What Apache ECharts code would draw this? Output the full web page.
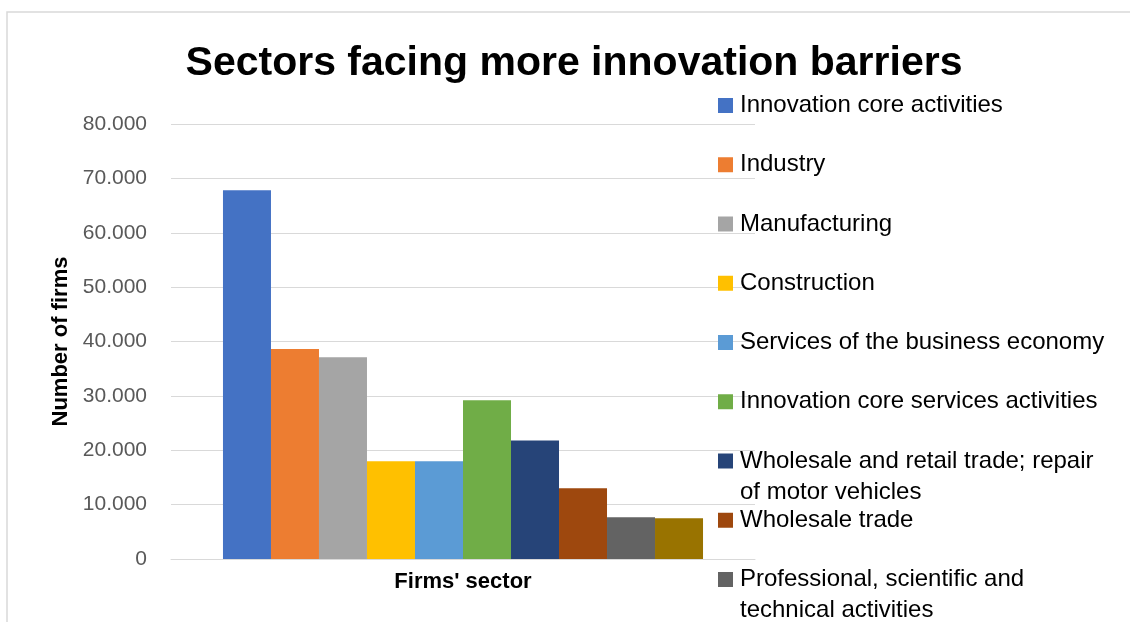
<!DOCTYPE html>
<html>
<head>
<meta charset="utf-8">
<title>Sectors facing more innovation barriers</title>
<script src="https://cdn.jsdelivr.net/npm/echarts@6/dist/echarts.min.js"></script>
<style>
  html, body { margin: 0; padding: 0; background: #ffffff; }
  #chart { width: 1130px; height: 622px; }
</style>
</head>
<body>
<div id="chart"></div>
<script>
// Number of firms facing innovation barriers, by sector
const sectors = [
  'Innovation core activities',
  'Industry',
  'Manufacturing',
  'Construction',
  'Services of the business economy',
  'Innovation core services activities',
  'Wholesale and retail trade; repair of motor vehicles',
  'Wholesale trade',
  'Professional, scientific and technical activities',
  'Information and communication'
];
const firmCounts = [67800, 38600, 37100, 18000, 18000, 29200, 21800, 13000, 7700, 7500];
const barColors = ['#4472C4', '#ED7D31', '#A5A5A5', '#FFC000', '#5B9BD5',
                   '#70AD47', '#264478', '#9E480E', '#636363', '#997300'];
const categories = [''];
const yMin = 0, yMax = 80000, yStep = 10000;

const FONT = 'Liberation Sans, Arial, sans-serif';

// 80000 -> "80.000"
function thousands(v) {
  return String(v).replace(/\B(?=(\d{3})+(?!\d))/g, '.');
}

// Legend entries whose text runs onto a second line. An empty leading line
// keeps the first text line level with the colour swatch.
const twoLine = new Set([6, 8]);
const LINE_H = 31;
const legendFirstCenter = 105.5, legendStep = 59.25, legendCount = 9;

const legends = sectors.slice(0, legendCount).map((name, i) => {
  const wrapped = twoLine.has(i);
  const center = legendFirstCenter + legendStep * i;
  return {
    data: [name],
    orient: 'vertical',
    left: 718,
    top: center - (wrapped ? LINE_H * 1.5 : LINE_H / 2),
    padding: 0,
    itemGap: 0,
    itemWidth: 15,
    itemHeight: 15,
    icon: 'rect',
    selectedMode: false,
    formatter: n => (wrapped ? '\n' + n : n),
    textStyle: {
      fontFamily: FONT,
      fontSize: 24,
      color: '#000000',
      lineHeight: LINE_H,
      width: 368,
      overflow: 'break',
      padding: [0, 0, 0, 2]
    }
  };
});

const chart = echarts.init(document.getElementById('chart'), null, { renderer: 'canvas' });
chart.setOption({
  animation: false,
  backgroundColor: '#ffffff',
  title: {
    text: 'Sectors facing more innovation barriers',
    left: 569,
    textAlign: 'center',
    top: 38,
    textStyle: { fontFamily: FONT, fontSize: 41, fontWeight: 'bold', color: '#000000' }
  },
  graphic: [{
    type: 'rect',
    silent: true,
    shape: { x: 7, y: 12, width: 1300, height: 800 },
    style: { fill: 'none', stroke: '#d9d9d9', lineWidth: 1.5 }
  }],
  legend: legends,
  grid: { left: 171, right: 375, top: 124, bottom: 63, containLabel: false },
  xAxis: {
    type: 'category',
    data: categories,
    name: "Firms' sector",
    nameLocation: 'middle',
    nameGap: 12,
    nameTextStyle: { fontFamily: FONT, fontSize: 22, fontWeight: 'bold', color: '#000000' },
    axisLine: { lineStyle: { color: '#d9d9d9', width: 1 } },
    axisTick: { show: false },
    axisLabel: { show: false }
  },
  yAxis: {
    type: 'value',
    min: yMin,
    max: yMax,
    interval: yStep,
    name: 'Number of firms',
    nameLocation: 'middle',
    nameGap: 98,
    nameTextStyle: { fontFamily: FONT, fontSize: 22, fontWeight: 'bold', color: '#000000' },
    axisLine: { show: false },
    axisTick: { show: false },
    axisLabel: {
      fontFamily: FONT, fontSize: 21, color: '#595959', margin: 24,
      formatter: v => thousands(v)
    },
    splitLine: { lineStyle: { color: '#d9d9d9', width: 1 } }
  },
  series: sectors.map((name, i) => ({
    type: 'bar',
    name: name,
    data: [firmCounts[i]],
    itemStyle: { color: barColors[i] },
    barGap: '0%',
    barCategoryGap: '17.8%'
  }))
});
</script>
</body>
</html>
